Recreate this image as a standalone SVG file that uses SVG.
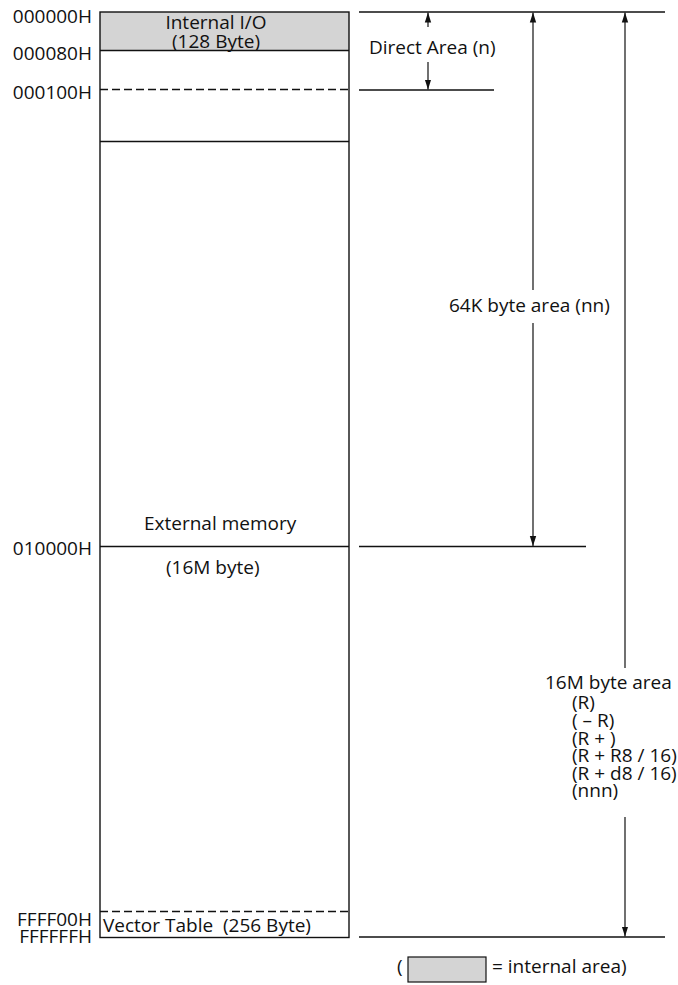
<svg xmlns="http://www.w3.org/2000/svg" width="678" height="985" viewBox="0 0 678 985">
<style>
text{font-family:"Open Sans","Liberation Sans",sans-serif;font-size:19px;fill:#111}
.ln{stroke:#111;stroke-width:1.4;fill:none}
.ds{stroke:#111;stroke-width:1.3;stroke-dasharray:8 4;fill:none}
.ar{stroke:#111;stroke-width:1.2;fill:none}
.gray{fill:#d4d4d4}
.lbl{text-anchor:end}
</style>
<defs>
<marker id="ah" viewBox="0 0 10 10" refX="10" refY="5" markerWidth="10" markerHeight="10" markerUnits="userSpaceOnUse" orient="auto">
<path d="M0,1.8 L10,5 L0,8.2 Z" fill="#111"/>
</marker>
</defs>
<g id="memory-map">
<rect class="gray" x="100" y="12" width="249" height="38.5"/>
<rect class="ln" x="100" y="12" width="249" height="925.5"/>
<line class="ln" x1="100" y1="50.5" x2="349" y2="50.5"/>
<line class="ds" x1="100" y1="89.5" x2="349" y2="89.5"/>
<line class="ln" x1="100" y1="141.5" x2="349" y2="141.5"/>
<line class="ln" x1="100" y1="546.5" x2="349" y2="546.5"/>
<line class="ds" x1="100" y1="911.5" x2="349" y2="911.5"/>
</g>
<g id="internal-io">
<text x="216" y="29" text-anchor="middle">Internal I/O</text>
<text x="216" y="48" text-anchor="middle">(128 Byte)</text>
</g>
<g id="external-memory">
<text x="144" y="530">External memory</text>
<text x="166" y="574">(16M byte)</text>
</g>
<g id="vector-table">
<text x="103" y="932" xml:space="preserve">Vector Table  (256 Byte)</text>
</g>
<g id="addresses">
<text class="lbl" x="92" y="23">000000H</text>
<text class="lbl" x="92" y="60">000080H</text>
<text class="lbl" x="92" y="99">000100H</text>
<text class="lbl" x="92" y="555">010000H</text>
<text class="lbl" x="92" y="926">FFFF00H</text>
<text class="lbl" x="92" y="943">FFFFFFH</text>
</g>
<g id="connectors">
<line class="ln" x1="359" y1="12" x2="665" y2="12"/>
<line class="ln" x1="359" y1="90" x2="494" y2="90"/>
<line class="ln" x1="359" y1="546.5" x2="586" y2="546.5"/>
<line class="ln" x1="359" y1="937" x2="665" y2="937"/>
<line class="ar" x1="428" y1="27" x2="428" y2="12.5" marker-end="url(#ah)"/>
<line class="ar" x1="428" y1="62" x2="428" y2="89.5" marker-end="url(#ah)"/>
<line class="ar" x1="533" y1="290" x2="533" y2="12.5" marker-end="url(#ah)"/>
<line class="ar" x1="533" y1="323" x2="533" y2="546" marker-end="url(#ah)"/>
<line class="ar" x1="625" y1="668" x2="625" y2="12.5" marker-end="url(#ah)"/>
<line class="ar" x1="625" y1="817" x2="625" y2="936.5" marker-end="url(#ah)"/>
</g>
<g id="direct-area">
<text x="369" y="54">Direct Area (n)</text>
</g>
<g id="area-64k">
<text x="449" y="312">64K byte area (nn)</text>
</g>
<g id="area-16m">
<text x="545" y="689">16M byte area</text>
<text x="572" y="709">(R)</text>
<text x="572" y="727">( – R)</text>
<text x="572" y="745">(R + )</text>
<text x="572" y="762">(R + R8 / 16)</text>
<text x="572" y="780">(R + d8 / 16)</text>
<text x="572" y="797">(nnn)</text>
</g>
<g id="legend">
<text x="397" y="973">(</text>
<rect class="gray" x="408" y="957" width="78" height="25" stroke="#111" stroke-width="1.2"/>
<text x="492" y="973">= internal area)</text>
</g>
</svg>
